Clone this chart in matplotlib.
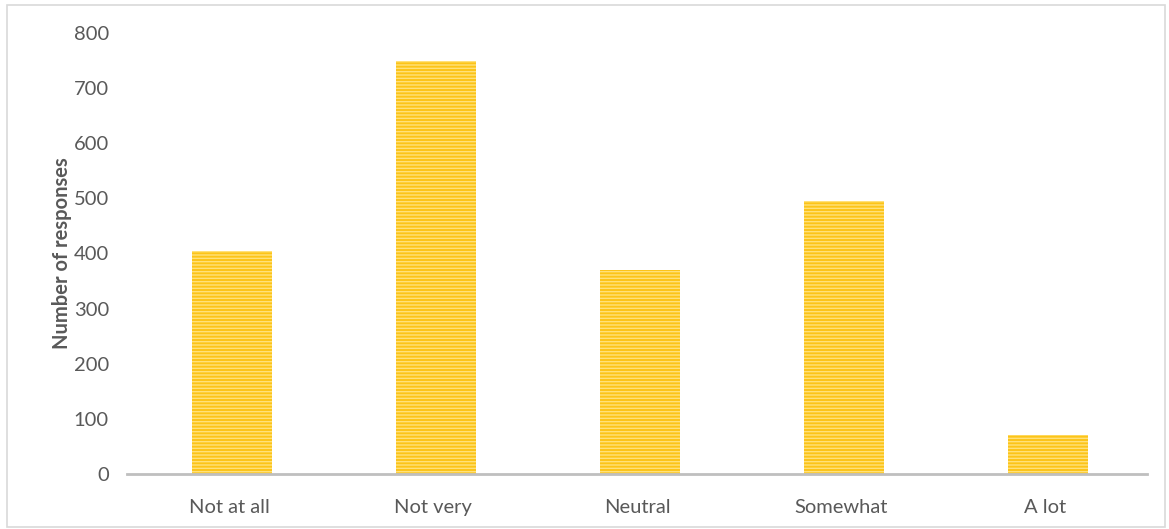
import matplotlib.pyplot as plt
from matplotlib.patches import Rectangle

# data
categories = ["Not at all", "Not very", "Neutral", "Somewhat", "A lot"]
responses = [405, 750, 370, 495, 70]

plt.rcParams['font.family'] = ['Lato', 'DejaVu Sans']
plt.rcParams['hatch.linewidth'] = 1.0

W, H = 1169, 529
fig = plt.figure(figsize=(W / 100, H / 100), dpi=100)
ax = fig.add_axes([127 / W, 55 / H, (1147 - 127) / W, (496 - 55) / H])

x = range(len(categories))
# gold bars with lighter horizontal stripes
ax.bar([i + 0.015 for i in x], responses, width=0.39, color='#FCC419',
       linewidth=0, zorder=2)
ax.bar([i + 0.015 for i in x], responses, width=0.39, facecolor='none',
       edgecolor='#FFE17A', hatch='-----', linewidth=0, zorder=3)

ax.set_xlim(-0.5, len(categories) - 0.5)
ax.set_ylim(0, 800)
ax.set_yticks(range(0, 801, 100))
ax.set_xticks(list(x))
ax.set_xticklabels(categories)

for s in ['top', 'right', 'left']:
    ax.spines[s].set_visible(False)
ax.spines['bottom'].set_color('#BFBFBF')
ax.spines['bottom'].set_linewidth(2)
ax.spines['bottom'].set_zorder(4)

ax.tick_params(axis='both', length=0, labelsize=14.5, labelcolor='#595959')
ax.tick_params(axis='y', pad=13)
ax.tick_params(axis='x', pad=18)

ax.set_ylabel('Number of responses', fontsize=14.5, fontweight='bold',
              color='#595959', labelpad=1)

# chart border
fig.patches.append(Rectangle((7 / W, 2 / H), (1165 - 7) / W, (524 - 2) / H,
                             transform=fig.transFigure, fill=False,
                             edgecolor='#D9D9D9', linewidth=1.2))

fig.savefig('out.png', dpi=100)
